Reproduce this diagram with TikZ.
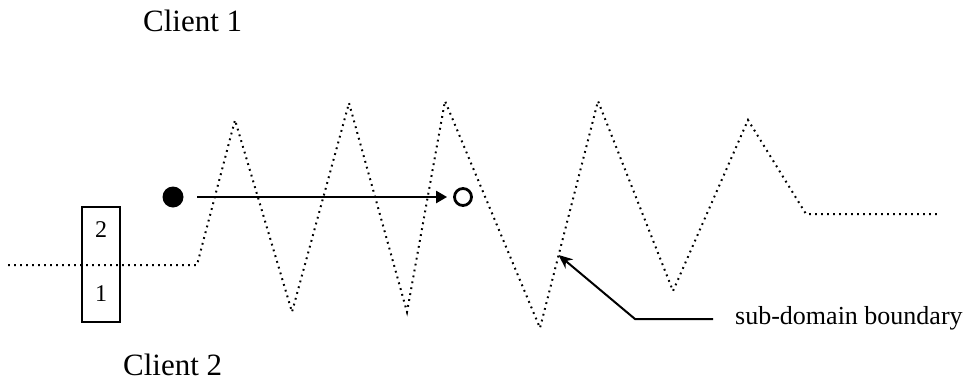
\documentclass[tikz,border=0pt]{standalone}
\usepackage{fontspec}
\setmainfont{Liberation Serif}
\usetikzlibrary{arrows.meta, positioning}
\tikzset{
  % dotted boundary line
  boundary/.style={line width=2pt, dash pattern=on 1.8pt off 4.2pt},
  % client label
  clientlabel/.style={font=\fontsize{31}{36}\selectfont, inner sep=0pt},
  digit/.style={font=\fontsize{24}{27}\selectfont, inner sep=0pt},
  notelabel/.style={font=\fontsize{26}{30}\selectfont, inner sep=0pt},
  % particle markers
  fulldot/.style={circle, fill=black, minimum size=21pt, inner sep=0pt},
  emptydot/.style={circle, draw=black, line width=2.8pt, minimum size=17pt, inner sep=0pt},
  clientbox/.style={rectangle, draw=black, line width=1.7pt,
    minimum width=38pt, minimum height=115pt, inner sep=0pt},
  % arrows
  movearr/.style={-{Triangle[length=11pt, width=12pt]}, line width=2.3pt},
  leadarr/.style={-{Stealth[length=14pt, width=12pt]}, line width=2pt},
}
\begin{document}
\begin{tikzpicture}[x=1pt, y=-1pt]
  \useasboundingbox (0,0) rectangle (978,383);
  % box of the two clients
  \node[clientbox] (cbox) at (101,264.5) {};
  \node[digit] (two) at (101,230) {2};
  \node[digit] (one) at (101,294) {1};
  % sub-domain boundary
  \draw[boundary] (8,265) -- (197,265) -- (235,120) -- (292,312)
    -- (349,103) -- (407,312) -- (445,101) -- (540,328)
    -- (598,101) -- (673,291) -- (748,120) -- (806,214) -- (939,214);
  \coordinate (hit) at (558.6,255);
  % particle moving between sub-domains
  \node[fulldot] (src) at (173,197) {};
  \node[emptydot] (dst) at (463,197) {};
  \draw[movearr, shorten >=6pt] ([xshift=24pt]src.center) -- (dst.west);
  % labels
  \node[clientlabel, anchor=base west] (client1) at (143,31) {Client 1};
  \node[clientlabel, anchor=base west] (client2) at (123,375) {Client 2};
  \node[notelabel, anchor=west] (note) at (735,318) {sub-domain boundary};
  \coordinate (bend) at (635,319);
  \draw[leadarr] ([xshift=-22pt]note.west |- bend) -- (bend) -- (hit);
\end{tikzpicture}
\end{document}
